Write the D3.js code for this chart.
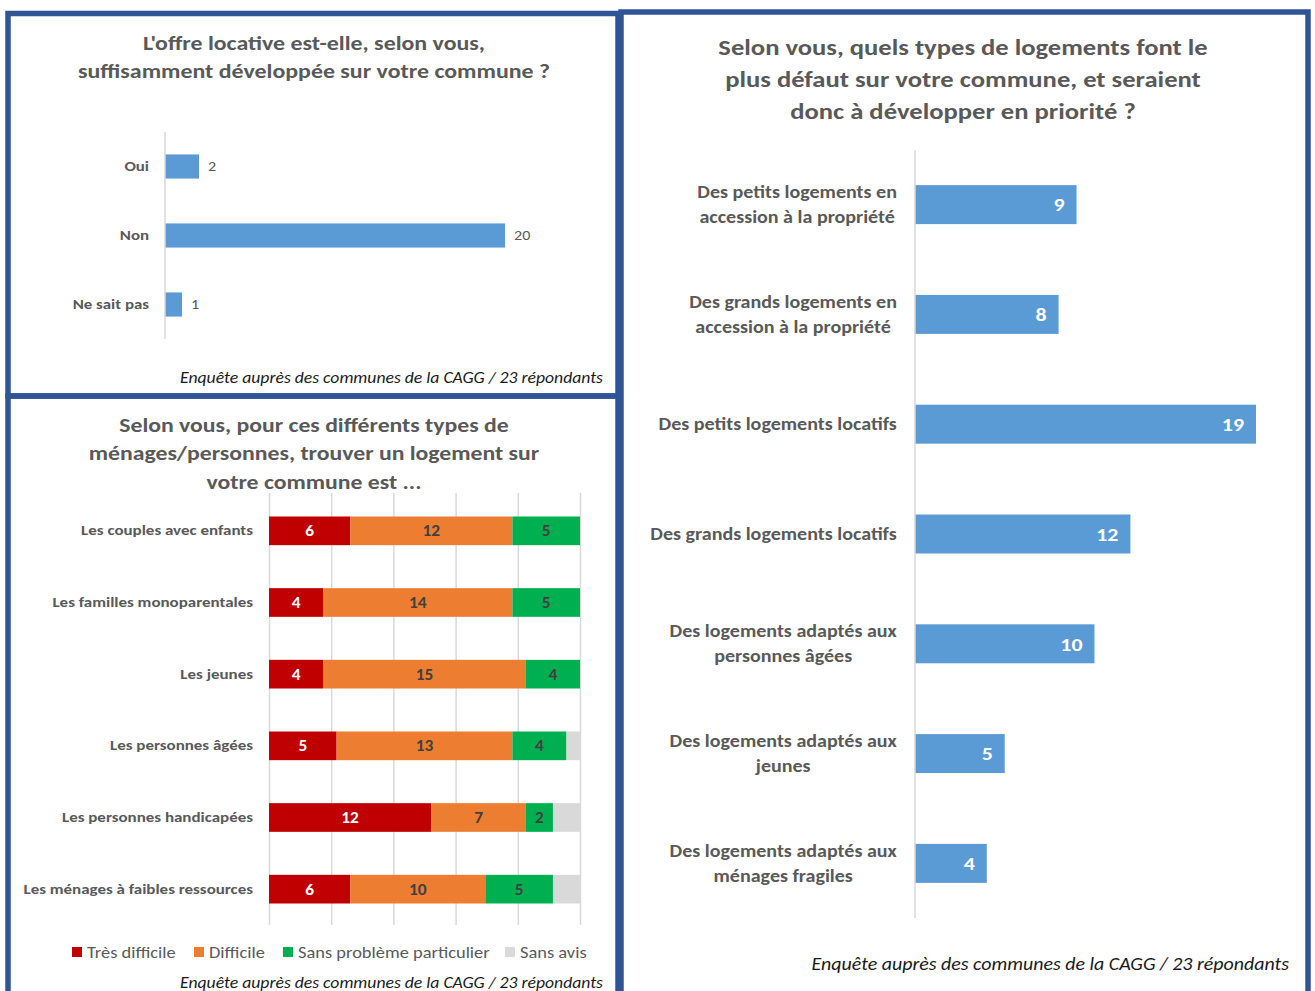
<!DOCTYPE html>
<html>
<head>
<meta charset="utf-8">
<script src="https://cdn.jsdelivr.net/npm/d3@7"></script>
<style>
  html, body { margin: 0; padding: 0; background: #fff; }
  svg { display: block; font-family: Carlito, Lato, "Open Sans", sans-serif; }
</style>
</head>
<body>
<svg id="chart" width="1315" height="991"></svg>
<script>
// ---- Data ----
// Panel 1: is the rental offer sufficiently developed?
const offreCategories = ["Oui", "Non", "Ne sait pas"];
const offreValues = [2, 20, 1];

// Panel 2: how hard it is to find housing, per household type
const menageCategories = [
  "Les couples avec enfants",
  "Les familles monoparentales",
  "Les jeunes",
  "Les personnes âgées",
  "Les personnes handicapées",
  "Les ménages à faibles ressources"
];
const seriesNames = ["Très difficile", "Difficile", "Sans problème particulier", "Sans avis"];
const tresDifficile = [6, 4, 4, 5, 12, 6];
const difficile = [12, 14, 15, 13, 7, 10];
const sansProbleme = [5, 5, 4, 4, 2, 5];
const sansAvis = [0, 0, 0, 1, 2, 2];
const percentTicks = [0, 0.2, 0.4, 0.6, 0.8, 1];

// Panel 3: housing types to develop in priority
const typeLabels = [
  ["Des petits logements en", "accession à la propriété"],
  ["Des grands logements en", "accession à la propriété"],
  ["Des petits logements locatifs"],
  ["Des grands logements locatifs"],
  ["Des logements adaptés aux", "personnes âgées"],
  ["Des logements adaptés aux", "jeunes"],
  ["Des logements adaptés aux", "ménages fragiles"]
];
const typeValues = [9, 8, 19, 12, 10, 5, 4];

const sourceText = "Enquête auprès des communes de la CAGG / 23 répondants";

// ---- Styles ----
const BORDER = "#2f5597";
const TEXT = "#595959";
const BAR_BLUE = "#5b9bd5";
const AXIS_GREY = "#d9d9d9";
const seriesColors = ["#c00000", "#ed7d31", "#00b050", "#d9d9d9"];
const seriesLabelColors = ["#ffffff", "#404040", "#404040", "#404040"];
const WIDE = 1.17; // horizontal widening of the glyphs

const svg = d3.select("#chart");

// widen a text element horizontally around its anchor x
function widen(sel, k = WIDE) {
  sel.each(function () {
    let ax = this.getAttribute("x");
    if (ax === null) {
      const ts = this.querySelector("tspan");
      ax = ts ? ts.getAttribute("x") : 0;
    }
    ax = +ax || 0;
    d3.select(this).attr("transform", `translate(${ax},0) scale(${k},1) translate(${-ax},0)`);
  });
}

// ---- Panel frames ----
const frames = svg.append("g");
function frame(x0, y0, x1, y1) {
  frames.append("rect")
    .attr("x", x0).attr("y", y0)
    .attr("width", x1 - x0).attr("height", y1 - y0)
    .attr("fill", "none").attr("stroke", BORDER).attr("stroke-width", 5.5);
}

function title(g, lines, cx, y0, lh, size, k) {
  const t = g.append("text").attr("text-anchor", "middle")
    .attr("font-size", size).attr("font-weight", "bold").attr("fill", TEXT);
  lines.forEach((l, i) => t.append("tspan").attr("x", cx).attr("y", y0 + i * lh).text(l));
  widen(t, k);
}

function source(g, x, y, size = 15.5) {
  const t = g.append("text").attr("x", x).attr("y", y).attr("text-anchor", "end")
    .attr("font-size", size).attr("font-style", "italic").attr("fill", "#1a1a1a")
    .text(sourceText);
  widen(t, 1.14);
}

// ===== Panel 1 =====
{
  const g = svg.append("g");
  title(g, ["L'offre locative est-elle, selon vous,", "suffisamment développée sur votre commune ?"], 314, 50, 28.5, 20.5, 1.165);

  const x = d3.scaleLinear().domain([0, 20]).range([165, 505]);
  const y = d3.scaleBand().domain(offreCategories).range([132, 339]).paddingInner(0.65).paddingOuter(0.325);

  g.selectAll("rect.bar").data(offreCategories).join("rect")
    .attr("x", x(0)).attr("y", d => y(d))
    .attr("width", (d, i) => x(offreValues[i]) - x(0))
    .attr("height", y.bandwidth()).attr("fill", BAR_BLUE);

  g.append("line").attr("x1", x(0)).attr("x2", x(0)).attr("y1", 132).attr("y2", 339)
    .attr("stroke", AXIS_GREY).attr("stroke-width", 1.5);

  const yAxis = d3.axisLeft(y).tickSize(0).tickPadding(16);
  const ax = g.append("g").attr("transform", `translate(${x(0)},0)`).call(yAxis);
  ax.select(".domain").remove();
  ax.selectAll("text").attr("font-size", 14.3).attr("font-weight", "bold").attr("fill", TEXT)
    .style("font-family", "Carlito, Lato, sans-serif");
  widen(ax.selectAll("text"), 1.18);

  const vals = g.selectAll("text.val").data(offreCategories).join("text")
    .attr("x", (d, i) => x(offreValues[i]) + 9)
    .attr("y", d => y(d) + y.bandwidth() / 2)
    .attr("dy", "0.35em").attr("font-size", 14).attr("fill", TEXT)
    .text((d, i) => offreValues[i]);
  widen(vals, 1.15);

  source(g, 603, 383);
}

// ===== Panel 2 =====
{
  const g = svg.append("g");
  title(g, ["Selon vous, pour ces différents types de", "ménages/personnes, trouver un logement sur", "votre commune est ..."], 314, 432, 28.5, 20.5, 1.158);

  const series = [tresDifficile, difficile, sansProbleme, sansAvis];
  const rows = menageCategories.map((c, i) => {
    const row = { cat: c };
    seriesNames.forEach((s, k) => row[s] = series[k][i]);
    return row;
  });
  const stacked = d3.stack().keys(seriesNames).offset(d3.stackOffsetExpand)(rows);

  const x = d3.scaleLinear().domain([0, 1]).range([269, 580]);
  const y = d3.scaleBand().domain(menageCategories).range([495, 925]).paddingInner(0.6).paddingOuter(0.3);

  // vertical gridlines
  const grid = d3.axisBottom(x).tickValues(percentTicks).tickSize(-(925 - 493)).tickFormat("");
  const gg = g.append("g").attr("transform", "translate(0,925)").call(grid);
  gg.select(".domain").remove();
  gg.selectAll("line").attr("stroke", AXIS_GREY).attr("stroke-width", 1.5);

  stacked.forEach((layer, k) => {
    g.append("g").selectAll("rect").data(layer).join("rect")
      .attr("x", d => x(d[0])).attr("y", d => y(d.data.cat))
      .attr("width", d => x(d[1]) - x(d[0])).attr("height", y.bandwidth())
      .attr("fill", seriesColors[k]);
    if (k < 3) {
      const labels = g.append("g").selectAll("text").data(layer).join("text")
        .attr("x", d => (x(d[0]) + x(d[1])) / 2)
        .attr("y", d => y(d.data.cat) + y.bandwidth() / 2)
        .attr("dy", "0.36em").attr("text-anchor", "middle")
        .attr("font-size", 15.5).attr("font-weight", "bold").attr("fill", seriesLabelColors[k])
        .text(d => d.data[seriesNames[k]]);
      widen(labels, 1.12);
    }
  });

  const yAxis = d3.axisLeft(y).tickSize(0).tickPadding(16);
  const ax = g.append("g").attr("transform", `translate(${x(0)},0)`).call(yAxis);
  ax.select(".domain").remove();
  ax.selectAll("text").attr("font-size", 14.5).attr("font-weight", "bold").attr("fill", TEXT)
    .style("font-family", "Carlito, Lato, sans-serif");
  widen(ax.selectAll("text"), 1.17);

  // legend
  const legendX = [72, 194, 283, 505];
  const lg = g.append("g");
  seriesNames.forEach((s, k) => {
    lg.append("rect").attr("x", legendX[k]).attr("y", 947).attr("width", 10).attr("height", 10)
      .attr("fill", seriesColors[k]);
    const t = lg.append("text").attr("x", legendX[k] + 15).attr("y", 958)
      .attr("font-size", 15.5).attr("fill", TEXT).text(s);
    widen(t, 1.19);
  });

  source(g, 603, 988);
}

// ===== Panel 3 =====
{
  const g = svg.append("g");
  title(g, ["Selon vous, quels types de logements font le", "plus défaut sur votre commune, et seraient", "donc à développer en priorité ?"], 963, 55, 32, 23, 1.157);

  const idx = typeValues.map((v, i) => i);
  const x = d3.scaleLinear().domain([0, 19]).range([915, 1256]);
  const y = d3.scaleBand().domain(idx).range([150, 918]).paddingInner(0.645).paddingOuter(0.32);

  g.selectAll("rect.bar").data(idx).join("rect")
    .attr("x", x(0)).attr("y", d => y(d))
    .attr("width", d => x(typeValues[d]) - x(0))
    .attr("height", y.bandwidth()).attr("fill", BAR_BLUE);

  g.append("line").attr("x1", x(0)).attr("x2", x(0)).attr("y1", 150).attr("y2", 918)
    .attr("stroke", AXIS_GREY).attr("stroke-width", 1.5);

  const vals = g.selectAll("text.val").data(idx).join("text")
    .attr("x", d => x(typeValues[d]) - 12)
    .attr("y", d => y(d) + y.bandwidth() / 2)
    .attr("dy", "0.36em").attr("text-anchor", "end")
    .attr("font-size", 19).attr("font-weight", "bold").attr("fill", "#fff")
    .text(d => typeValues[d]);
  widen(vals, 1.15);

  // category labels (lines centred on each other, right edge near the axis)
  const k3 = 1.18;
  idx.forEach(i => {
    const lines = typeLabels[i];
    const cy = y(i) + y.bandwidth() / 2;
    const lh = 25;
    const t = g.append("text").attr("text-anchor", "middle")
      .attr("font-size", 17).attr("font-weight", "bold").attr("fill", TEXT);
    lines.forEach((l, j) => {
      t.append("tspan").attr("x", 0).attr("y", cy + (j - (lines.length - 1) / 2) * lh)
        .attr("dy", "0.35em").text(l);
    });
    const w = t.node().getBBox().width * k3;
    const cx = 897 - w / 2;
    t.selectAll("tspan").attr("x", cx);
    widen(t, k3);
  });

  source(g, 1289, 970, 17.5);
}

// frames on top
frame(8, 13.5, 618, 396);
frame(8, 396, 618, 1000);
frame(621, 12, 1308, 1000);
svg.node().appendChild(frames.node());
</script>
</body>
</html>
